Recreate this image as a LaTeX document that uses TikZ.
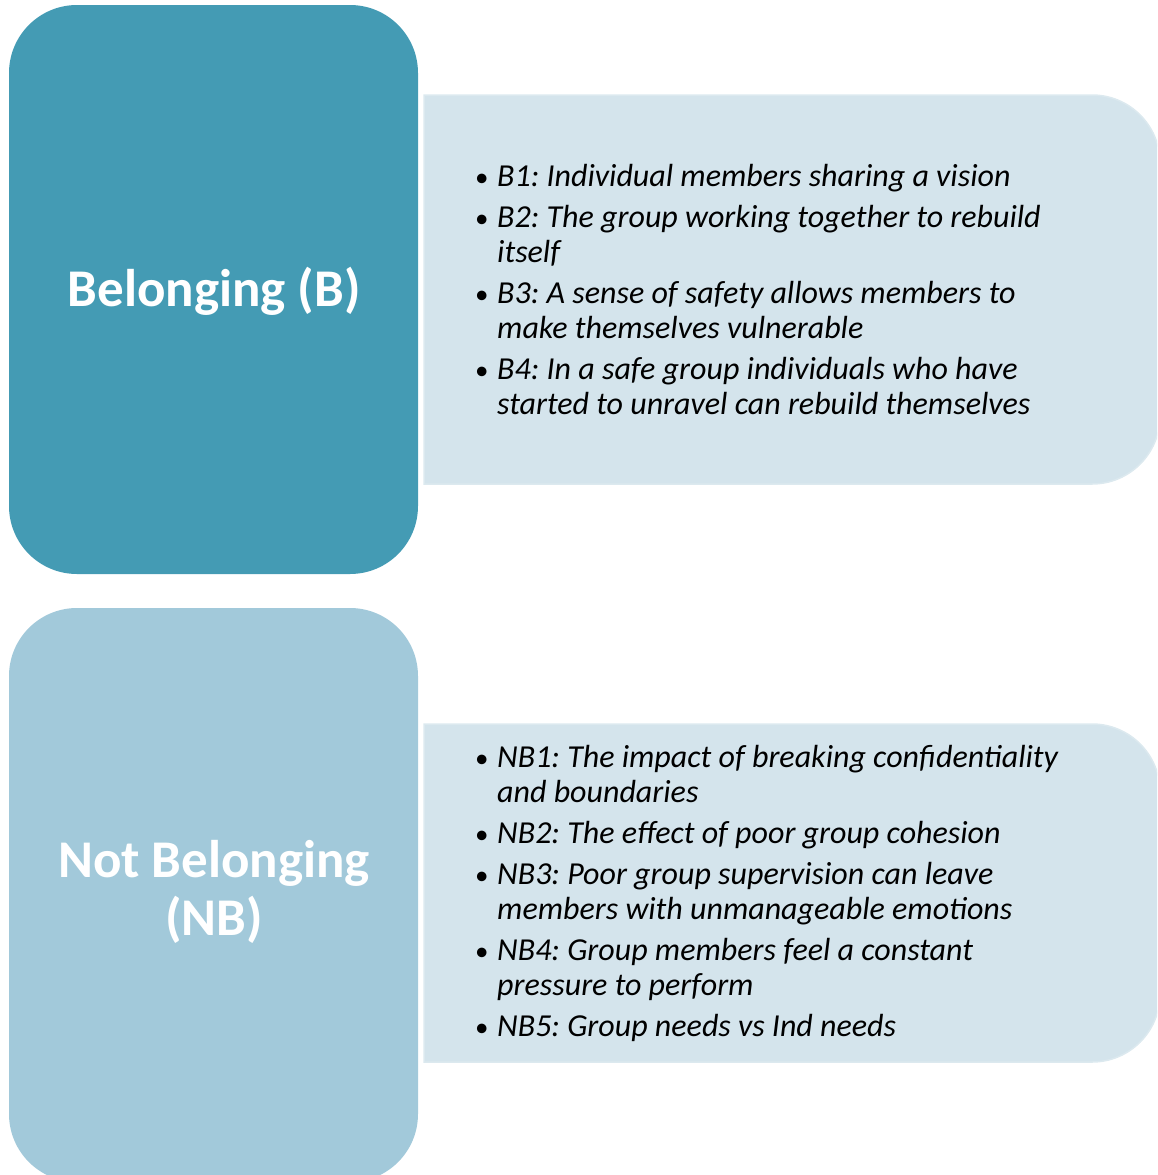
\documentclass[tikz,border=0pt]{standalone}
\usepackage{fontspec}
\setmainfont{Carlito}
\definecolor{teal}{HTML}{449BB4}
\definecolor{lightteal}{HTML}{A2C9DA}
\definecolor{pale}{HTML}{D4E4EC}
\definecolor{paleedge}{HTML}{DCE9EF}
\frenchspacing
\newcommand{\bul}[1]{\makebox[22pt][l]{\fontsize{27}{35}\selectfont\upshape\textbullet}#1}
\newcommand{\cont}[1]{\hspace*{22pt}#1}
\tikzset{
  cattext/.style={text=white, font=\fontsize{53}{58}\selectfont\bfseries, align=center},
  listtext/.style={anchor=west, align=left, inner sep=0pt, font=\fontsize{32}{35}\selectfont\itshape},
  panel/.style={fill=pale, draw=paleedge, line width=1.5pt}
}
\begin{document}
\begin{tikzpicture}[x=1pt,y=-1pt]
\useasboundingbox (0,0) rectangle (1157,1175);
\clip (0,0) rectangle (1157,1175);
% category blocks
\fill[teal, rounded corners=68pt] (9,5) rectangle (418,574);
\fill[lightteal, rounded corners=68pt] (9,608) rectangle (418,1182);
% detail panels: square on the left, rounded on the right
\filldraw[panel]
  (424,95) -- (1092,95) arc[start angle=-90, end angle=0, radius=68]
  -- (1160,416) arc[start angle=0, end angle=90, radius=68] -- (424,484) -- cycle;
\filldraw[panel]
  (424,724) -- (1092,724) arc[start angle=-90, end angle=0, radius=68]
  -- (1160,994) arc[start angle=0, end angle=90, radius=68] -- (424,1062) -- cycle;
% labels
\node[cattext] (b) at (214,291) {Belonging (B)};
\node[cattext] (nb) at (214,892) {Not Belonging\\(NB)};
\node[listtext] (blist) at (475,290) {%
\bul{B1: Individual members sharing a vision}\\[6pt]
\bul{B2: The group working together to rebuild}\\
\cont{itself}\\[6pt]
\bul{B3: A sense of safety allows members to}\\
\cont{make themselves vulnerable}\\[6pt]
\bul{B4: In a safe group individuals who have}\\
\cont{started to unravel can rebuild themselves}};
\node[listtext] (nblist) at (475,893) {%
\bul{NB1: The impact of breaking confidentiality}\\
\cont{and boundaries}\\[6pt]
\bul{NB2: The effect of poor group cohesion}\\[6pt]
\bul{NB3: Poor group supervision can leave}\\
\cont{members with unmanageable emotions}\\[6pt]
\bul{NB4: Group members feel a constant}\\
\cont{pressure to perform}\\[6pt]
\bul{NB5: Group needs vs Ind needs}};
\end{tikzpicture}
\end{document}
